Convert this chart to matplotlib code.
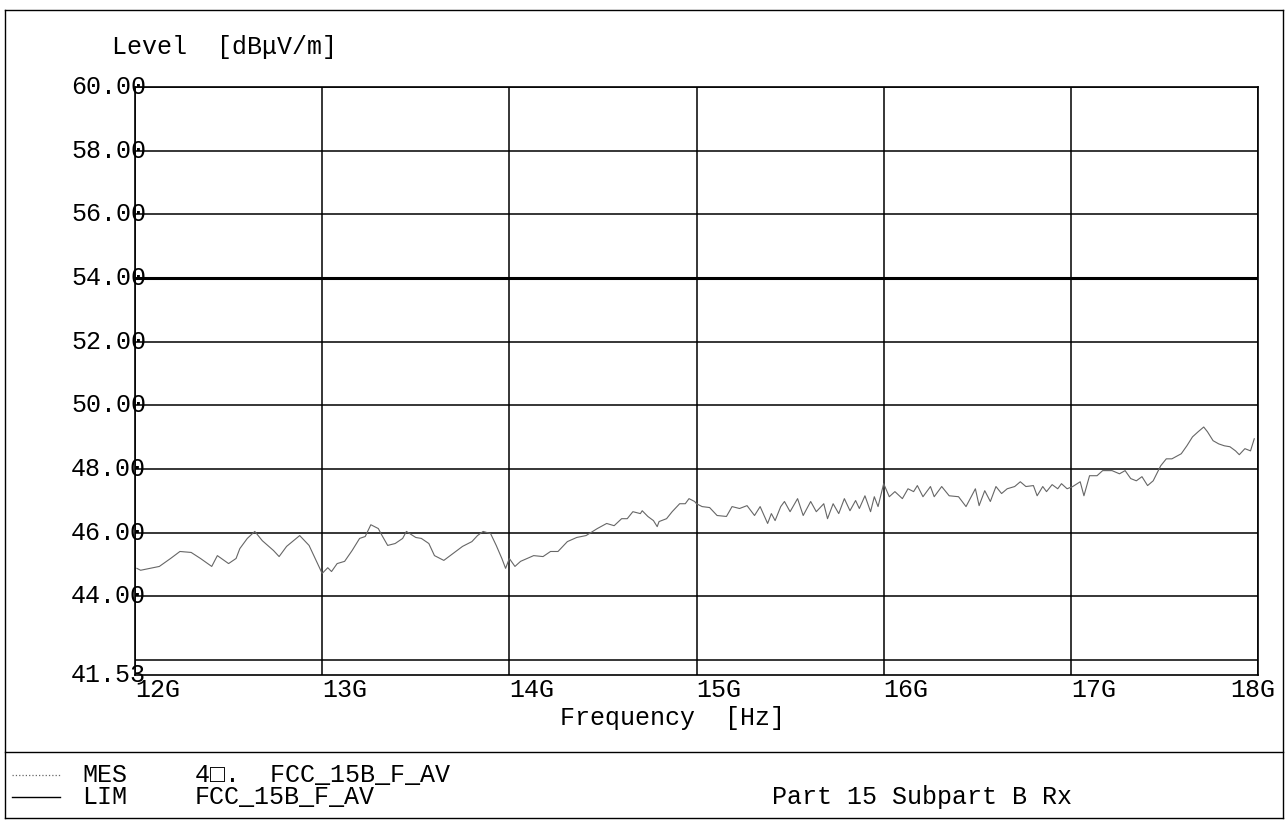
import numpy as np
import matplotlib
matplotlib.use('Agg')
import matplotlib.pyplot as plt
from matplotlib.lines import Line2D
from matplotlib.transforms import blended_transform_factory

freq_ghz = [12.01, 12.03, 12.08, 12.13, 12.19, 12.24, 12.30, 12.35, 12.41, 12.44,
            12.50, 12.54, 12.56, 12.60, 12.64, 12.68, 12.74, 12.77, 12.81, 12.88,
            12.93, 12.97, 13.00, 13.03, 13.05, 13.08, 13.12, 13.16, 13.20, 13.23,
            13.26, 13.30, 13.32, 13.35, 13.39, 13.43, 13.45, 13.50, 13.53, 13.57,
            13.60, 13.65, 13.70, 13.75, 13.80, 13.83, 13.86, 13.90, 13.93, 13.96,
            13.98, 14.00, 14.03, 14.06, 14.13, 14.18, 14.22, 14.26, 14.31, 14.36,
            14.41, 14.47, 14.52, 14.56, 14.60, 14.63, 14.66, 14.70, 14.71, 14.74,
            14.77, 14.79, 14.80, 14.84, 14.87, 14.91, 14.94, 14.96, 14.99, 15.00,
            15.03, 15.07, 15.11, 15.16, 15.19, 15.23, 15.27, 15.31, 15.34, 15.38,
            15.40, 15.42, 15.45, 15.47, 15.50, 15.54, 15.57, 15.61, 15.64, 15.68,
            15.70, 15.73, 15.76, 15.79, 15.82, 15.85, 15.87, 15.90, 15.93, 15.95,
            15.97, 16.00, 16.03, 16.06, 16.10, 16.13, 16.16, 16.18, 16.21, 16.25,
            16.27, 16.31, 16.35, 16.40, 16.44, 16.49, 16.51, 16.54, 16.57, 16.60,
            16.63, 16.66, 16.70, 16.73, 16.76, 16.80, 16.82, 16.85, 16.87, 16.90,
            16.93, 16.95, 16.98, 17.01, 17.05, 17.07, 17.10, 17.14, 17.17, 17.22,
            17.26, 17.29, 17.32, 17.35, 17.38, 17.41, 17.44, 17.48, 17.51, 17.54,
            17.59, 17.62, 17.65, 17.68, 17.71, 17.73, 17.76, 17.79, 17.82, 17.85,
            17.88, 17.90, 17.93, 17.96, 17.98]
mes_level = [44.88, 44.82, 44.88, 44.94, 45.19, 45.41, 45.38, 45.19, 44.94, 45.28,
             45.03, 45.19, 45.50, 45.82, 46.04, 45.75, 45.44, 45.25, 45.57, 45.91,
             45.60, 45.10, 44.72, 44.90, 44.78, 45.03, 45.10, 45.44, 45.82, 45.88,
             46.25, 46.13, 45.91, 45.60, 45.66, 45.82, 46.04, 45.85, 45.82, 45.66,
             45.28, 45.13, 45.35, 45.57, 45.72, 45.91, 46.04, 45.97, 45.60, 45.19,
             44.88, 45.19, 44.94, 45.10, 45.28, 45.25, 45.41, 45.41, 45.72, 45.85,
             45.91, 46.13, 46.29, 46.22, 46.44, 46.44, 46.66, 46.60, 46.69, 46.51,
             46.38, 46.19, 46.35, 46.44, 46.66, 46.91, 46.91, 47.07, 46.98, 46.91,
             46.82, 46.79, 46.54, 46.51, 46.82, 46.76, 46.85, 46.54, 46.82, 46.29,
             46.60, 46.38, 46.82, 46.98, 46.66, 47.07, 46.54, 46.98, 46.66, 46.91,
             46.44, 46.91, 46.60, 47.07, 46.69, 47.01, 46.76, 47.16, 46.66, 47.13,
             46.82, 47.54, 47.13, 47.29, 47.07, 47.38, 47.29, 47.48, 47.13, 47.45,
             47.13, 47.45, 47.16, 47.13, 46.82, 47.38, 46.85, 47.32, 46.98, 47.45,
             47.23, 47.38, 47.45, 47.60, 47.45, 47.48, 47.16, 47.45, 47.29, 47.51,
             47.38, 47.54, 47.38, 47.45, 47.60, 47.16, 47.79, 47.79, 47.95, 47.95,
             47.85, 47.95, 47.70, 47.63, 47.76, 47.48, 47.63, 48.10, 48.32, 48.32,
             48.48, 48.73, 49.01, 49.17, 49.32, 49.17, 48.89, 48.79, 48.73, 48.70,
             48.57, 48.45, 48.64, 48.57, 48.95]

# limit line FCC_15B_F_AV
lim_freq = [12.0, 18.0]
lim_level = [54.0, 54.0]

x_ticks = [12, 13, 14, 15, 16, 17, 18]
x_labels = ['12G', '13G', '14G', '15G', '16G', '17G', '18G']
y_ticks = [42, 44, 46, 48, 50, 52, 54, 56, 58, 60]
y_labels = ['41.53', '44.00', '46.00', '48.00', '50.00', '52.00', '54.00', '56.00', '58.00', '60.00']
y_label_vals = [41.53, 44, 46, 48, 50, 52, 54, 56, 58, 60]

W, H = 1287, 824
mono = ['Liberation Mono', 'DejaVu Sans Mono']
fs = 18

fig = plt.figure(figsize=(W / 100, H / 100), dpi=100)
ax = fig.add_axes([135 / W, 1 - 675 / H, (1258 - 135) / W, (675 - 87) / H])

ax.plot(freq_ghz, mes_level, color='#666666', lw=0.8)
ax.plot(lim_freq, lim_level, color='black', lw=2.2)

ax.set_xlim(12, 18)
ax.set_ylim(41.53, 60)
ax.set_xticks(x_ticks)
ax.set_yticks(y_ticks)
ax.set_xticklabels([])
ax.set_yticklabels([])
ax.tick_params(length=0)
ax.grid(True, color='black', lw=1.1)
for s in ax.spines.values():
    s.set_color('black')
    s.set_linewidth(1.2)

# tick labels, placed like the printout
ty = blended_transform_factory(fig.transFigure, ax.transData)
for v, lab in zip(y_label_vals, y_labels):
    ax.text(146 / W, v, lab, transform=ty, ha='right', va='center',
            family=mono, fontsize=fs, clip_on=False)
tx = blended_transform_factory(ax.transData, fig.transFigure)
for f, lab in zip(x_ticks, x_labels):
    xo = f + 0.12 if f < 18 else f - 0.03
    ax.text(xo, 1 - 690 / H, lab, transform=tx, ha='center', va='center',
            family=mono, fontsize=fs, clip_on=False)

fig.text(225 / W, 1 - 47 / H, 'Level  [dB\u03bcV/m]', ha='center', va='center',
         family=mono, fontsize=fs)
fig.text(672 / W, 1 - 718 / H, 'Frequency  [Hz]', ha='center', va='center',
         family=mono, fontsize=fs)

# frame and legend area
def fline(x0, y0, x1, y1, color='black', **kw):
    fig.add_artist(Line2D([x0 / W, x1 / W], [1 - y0 / H, 1 - y1 / H],
                          transform=fig.transFigure, color=color, **kw))

fline(5, 10, 1283, 10, lw=1.0)
fline(5, 818, 1283, 818, lw=1.0)
fline(5, 10, 5, 818, lw=1.0)
fline(1283, 10, 1283, 818, lw=1.0)
fline(5, 752, 1283, 752, lw=1.0)

fline(12, 775, 60, 775, color='#666666', lw=0.9, ls=':')
fline(12, 797, 60, 797, lw=1.0)
fig.text(82 / W, 1 - 775 / H, 'MES', ha='left', va='center', family=mono, fontsize=fs)
fig.text(82 / W, 1 - 797 / H, 'LIM', ha='left', va='center', family=mono, fontsize=fs)
fig.text(195 / W, 1 - 775 / H, '4\u25a1.  FCC_15B_F_AV', ha='left', va='center',
         family=mono, fontsize=fs)
fig.text(195 / W, 1 - 797 / H, 'FCC_15B_F_AV', ha='left', va='center',
         family=mono, fontsize=fs)
fig.text(922 / W, 1 - 797 / H, 'Part 15 Subpart B Rx', ha='center', va='center',
         family=mono, fontsize=fs)

fig.savefig('out.png', dpi=100)
